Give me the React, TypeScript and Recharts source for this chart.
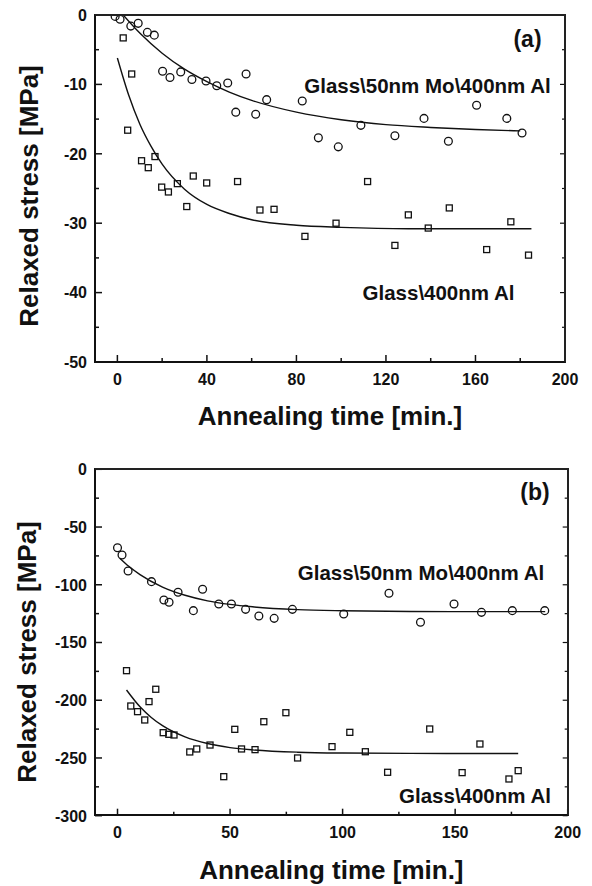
import React from 'react';
import { ComposedChart, Scatter, Line, XAxis, YAxis } from 'recharts';

const FONT = '"Liberation Sans", Arial, Helvetica, sans-serif';
const INK = '#111';

// ---------- Panel (a) ----------
const aMoT = [-1, 1.2, 6, 9.3, 13.4, 16.5, 20.2, 23.5, 28.3, 33.3, 39.6, 44.4, 49.3, 52.9, 57.5, 61.8, 66.7, 82.6, 89.8, 98.7, 108.8, 124, 137, 147.9, 160.5, 174, 180.8];
const aMoV = [-0.2, -0.6, -1.6, -1.2, -2.5, -2.9, -8.1, -9.0, -8.2, -9.3, -9.5, -10.2, -9.8, -14.0, -8.5, -14.3, -12.2, -12.4, -17.7, -19.0, -15.9, -17.4, -14.9, -18.2, -13.0, -14.9, -17.0];
const aAlT = [2.6, 4.6, 6.4, 10.8, 13.8, 16.8, 19.8, 22.8, 26.8, 31, 33.9, 39.9, 53.7, 63.7, 70, 83.8, 97.7, 111.8, 124, 130, 138.9, 148.3, 165, 175.8, 183.7];
const aAlV = [-3.3, -16.6, -8.5, -21.0, -22.0, -20.4, -24.8, -25.5, -24.3, -27.6, -23.2, -24.2, -24.0, -28.1, -28.0, -31.9, -30.0, -24.0, -33.2, -28.8, -30.7, -27.8, -33.8, -29.8, -34.6];
const aMoFitT = [2.6, 10, 20, 30, 40, 50, 60, 80, 100, 120, 140, 160, 180];
const aMoFitV = [0, -2.6, -5.5, -7.8, -9.6, -11.1, -12.3, -14.0, -15.1, -15.8, -16.2, -16.5, -16.7];
const aAlFitT = [0, 5, 10, 15, 20, 30, 40, 50, 60, 80, 100, 130, 160, 185];
const aAlFitV = [-6.2, -11.5, -15.7, -18.9, -21.5, -25.1, -27.3, -28.6, -29.5, -30.3, -30.6, -30.8, -30.8, -30.8];
const aXTicks = [0, 20, 40, 60, 80, 100, 120, 140, 160, 180, 200];
const aXLabels = [0, 40, 80, 120, 160, 200];
const aYTicks = [0, -5, -10, -15, -20, -25, -30, -35, -40, -45, -50];
const aYLabels = [0, -10, -20, -30, -40, -50];

// ---------- Panel (b) ----------
const bMoT = [0, 2.0, 4.7, 15.1, 20.6, 22.9, 26.9, 33.7, 37.8, 45, 50.6, 56.9, 62.8, 69.6, 77.7, 100.5, 120.6, 134.6, 149.5, 161.7, 175.4, 189.8];
const bMoV = [-67.9, -74.2, -88.1, -97.3, -113.2, -115.2, -106.5, -122.4, -103.9, -116.7, -116.7, -121.3, -127.0, -129.1, -121.3, -125.3, -107.4, -132.5, -116.7, -123.9, -122.4, -122.4];
const bAlT = [4.0, 5.9, 8.9, 12.1, 14.0, 17.0, 20.3, 22.8, 25.1, 32.1, 35.2, 41.1, 47.2, 52.1, 55.1, 61.1, 65.0, 74.8, 80.0, 95.3, 103.2, 110.1, 120.0, 138.7, 153.1, 161.0, 173.9, 178.0];
const bAlV = [-174.4, -205.0, -209.9, -217.1, -201.2, -190.5, -228.1, -229.5, -230.1, -244.8, -242.2, -238.8, -266.2, -225.2, -242.2, -242.8, -218.6, -210.8, -250.0, -240.2, -227.8, -244.6, -262.4, -224.9, -262.7, -237.9, -268.2, -261.0];
const bMoFitT = [1, 5, 10, 20, 30, 40, 50, 60, 80, 100, 130, 160, 190];
const bMoFitV = [-77, -84, -91.2, -102, -109.1, -113.9, -117, -119.1, -121.5, -122.5, -123.1, -123.3, -123.3];
const bAlFitT = [4, 10, 15, 20, 30, 40, 50, 60, 80, 100, 130, 160, 178];
const bAlFitV = [-191.1, -205.7, -214.9, -222, -231.7, -237.5, -241, -243, -245, -245.7, -246, -246.1, -246.1];
const bXTicks = [0, 25, 50, 75, 100, 125, 150, 175, 200];
const bXLabels = [0, 50, 100, 150, 200];
const bYTicks = [0, -25, -50, -75, -100, -125, -150, -175, -200, -225, -250, -275, -300];
const bYLabels = [0, -50, -100, -150, -200, -250, -300];

const X_DOMAIN: [number, number] = [-10, 200];

const xTitle = 'Annealing time [min.]';
const yTitle = 'Relaxed stress [MPa]';
const labelMo = 'Glass\\50nm Mo\\400nm Al';
const labelAl = 'Glass\\400nm Al';

const zip = (ts: number[], vs: number[]) => ts.map((t, i) => ({ t, v: vs[i] }));

const makeXTick = (labels: number[]) => (props: any) => {
  const { x, y, payload } = props;
  const v = payload.value;
  const major = labels.includes(v);
  return (
    <g>
      <path d={`M${x},${y} L${x},${y - (major ? 7 : 4)}`} stroke={INK} strokeWidth={1.5} fill="none" />
      {major && (
        <text x={x} y={y + 22.5} textAnchor="middle" fontFamily={FONT} fontWeight="bold" fontSize={16} fill={INK}>
          {v}
        </text>
      )}
    </g>
  );
};

const makeYTick = (labels: number[], plotW: number) => (props: any) => {
  const { x, y, payload } = props;
  const v = payload.value;
  const major = labels.includes(v);
  return (
    <g>
      <path d={`M${x},${y} L${x + (major ? 7 : 4)},${y}`} stroke={INK} strokeWidth={1.5} fill="none" />
      <path d={`M${x + plotW},${y} L${x + plotW - (major ? 5 : 3)},${y}`} stroke={INK} strokeWidth={1.2} fill="none" />
      {major && (
        <text x={x - 8} y={y + 5.8} textAnchor="end" fontFamily={FONT} fontWeight="bold" fontSize={16} fill={INK}>
          {v}
        </text>
      )}
    </g>
  );
};

const CircleMark = (props: any) => {
  const { cx, cy } = props;
  if (cx == null || cy == null) return <g />;
  return <circle cx={cx} cy={cy} r={3.9} fill="none" stroke={INK} strokeWidth={1.3} />;
};

const SquareMark = (props: any) => {
  const { cx, cy } = props;
  if (cx == null || cy == null) return <g />;
  return <rect x={cx - 3} y={cy - 3} width={6} height={6} fill="none" stroke={INK} strokeWidth={1.3} />;
};

type Pt = { t: number; v: number };
type PanelProps = {
  top: number;
  height: number;
  margin: { top: number; right: number; bottom: number; left: number };
  yDomain: [number, number];
  xTicks: number[];
  xLabels: number[];
  yTicks: number[];
  yLabels: number[];
  mo: Pt[];
  al: Pt[];
  moFit: Pt[];
  alFit: Pt[];
};

const Y_AXIS_W = 95;
const X_AXIS_H = 1;

const Panel = (p: PanelProps) => {
  const plotW = 592 - Y_AXIS_W - p.margin.left - p.margin.right;
  const plotH = p.height - p.margin.top - p.margin.bottom - X_AXIS_H;
  return (
    <div style={{ position: 'absolute', left: 0, top: p.top, width: 592, height: p.height }}>
      <div style={{ position: 'absolute', left: 0, top: 0 }}>
        <ComposedChart width={592} height={p.height} margin={p.margin}>
          <XAxis
            xAxisId="b"
            dataKey="t"
            type="number"
            domain={X_DOMAIN}
            allowDataOverflow
            ticks={p.xTicks}
            interval={0}
            height={X_AXIS_H}
            tickSize={0}
            tickMargin={0}
            tickLine={false}
            axisLine={false}
            tick={makeXTick(p.xLabels)}
            label={{
              value: xTitle,
              position: 'bottom',
              offset: 44,
              style: { fontFamily: FONT, fontWeight: 'bold', fontSize: 26, fill: INK },
            }}
          />
          <YAxis
            yAxisId="l"
            dataKey="v"
            type="number"
            domain={p.yDomain}
            allowDataOverflow
            ticks={p.yTicks}
            interval={0}
            width={Y_AXIS_W}
            tickSize={0}
            tickMargin={0}
            tickLine={false}
            axisLine={false}
            tick={makeYTick(p.yLabels, plotW)}
          />
          <Line xAxisId="b" yAxisId="l" data={p.moFit} dataKey="v" type="monotone" dot={false} stroke={INK} strokeWidth={1.4} isAnimationActive={false} />
          <Line xAxisId="b" yAxisId="l" data={p.alFit} dataKey="v" type="monotone" dot={false} stroke={INK} strokeWidth={1.4} isAnimationActive={false} />
          <Scatter xAxisId="b" yAxisId="l" data={p.mo} dataKey="v" shape={CircleMark} isAnimationActive={false} />
          <Scatter xAxisId="b" yAxisId="l" data={p.al} dataKey="v" shape={SquareMark} isAnimationActive={false} />
        </ComposedChart>
      </div>
      {/* plot frame, drawn above the chart */}
      <div
        style={{
          position: 'absolute',
          left: Y_AXIS_W + p.margin.left - 1,
          top: Math.round(p.margin.top) - 1,
          width: Math.round(plotW) + 2,
          height: Math.round(plotH) + 2,
          boxSizing: 'border-box',
          borderLeft: '2px solid #111',
          borderBottom: '2px solid #111',
          borderTop: '2px solid #222',
          borderRight: '2px solid #222',
          pointerEvents: 'none',
        }}
      />
    </div>
  );
};

const txt = { fontFamily: FONT, fontWeight: 'bold' as const, fill: INK };

export default function App() {
  return (
    <div style={{ position: 'absolute', left: 0, top: 0, width: 592, height: 886, background: '#fff', overflow: 'hidden' }}>
      <Panel
        top={0}
        height={440}
        margin={{ top: 15, right: 27, bottom: 77, left: 0 }}
        yDomain={[-50, 0]}
        xTicks={aXTicks}
        xLabels={aXLabels}
        yTicks={aYTicks}
        yLabels={aYLabels}
        mo={zip(aMoT, aMoV)}
        al={zip(aAlT, aAlV)}
        moFit={zip(aMoFitT, aMoFitV)}
        alFit={zip(aAlFitT, aAlFitV)}
      />
      <Panel
        top={450}
        height={436}
        margin={{ top: 19.3, right: 24.3, bottom: 69.3, left: 0 }}
        yDomain={[-300, 0]}
        xTicks={bXTicks}
        xLabels={bXLabels}
        yTicks={bYTicks}
        yLabels={bYLabels}
        mo={zip(bMoT, bMoV)}
        al={zip(bAlT, bAlV)}
        moFit={zip(bMoFitT, bMoFitV)}
        alFit={zip(bAlFitT, bAlFitV)}
      />
      <svg width={592} height={886} style={{ position: 'absolute', left: 0, top: 0, pointerEvents: 'none' }}>
        <text {...txt} fontSize={26} textAnchor="middle" transform="translate(38,196) rotate(-90)">{yTitle}</text>
        <text {...txt} fontSize={26} textAnchor="middle" transform="translate(36,652) rotate(-90)">{yTitle}</text>
        <text {...txt} fontSize={23} textAnchor="middle" x={527.5} y={47}>(a)</text>
        <text {...txt} fontSize={23} textAnchor="middle" x={535} y={500}>(b)</text>
        <text {...txt} fontSize={20.5} textAnchor="middle" x={427.5} y={92.5}>{labelMo}</text>
        <text {...txt} fontSize={20.5} textAnchor="middle" x={438.5} y={300}>{labelAl}</text>
        <text {...txt} fontSize={20.5} textAnchor="middle" x={421} y={580}>{labelMo}</text>
        <text {...txt} fontSize={20.5} textAnchor="middle" x={475} y={803}>{labelAl}</text>
      </svg>
    </div>
  );
}
